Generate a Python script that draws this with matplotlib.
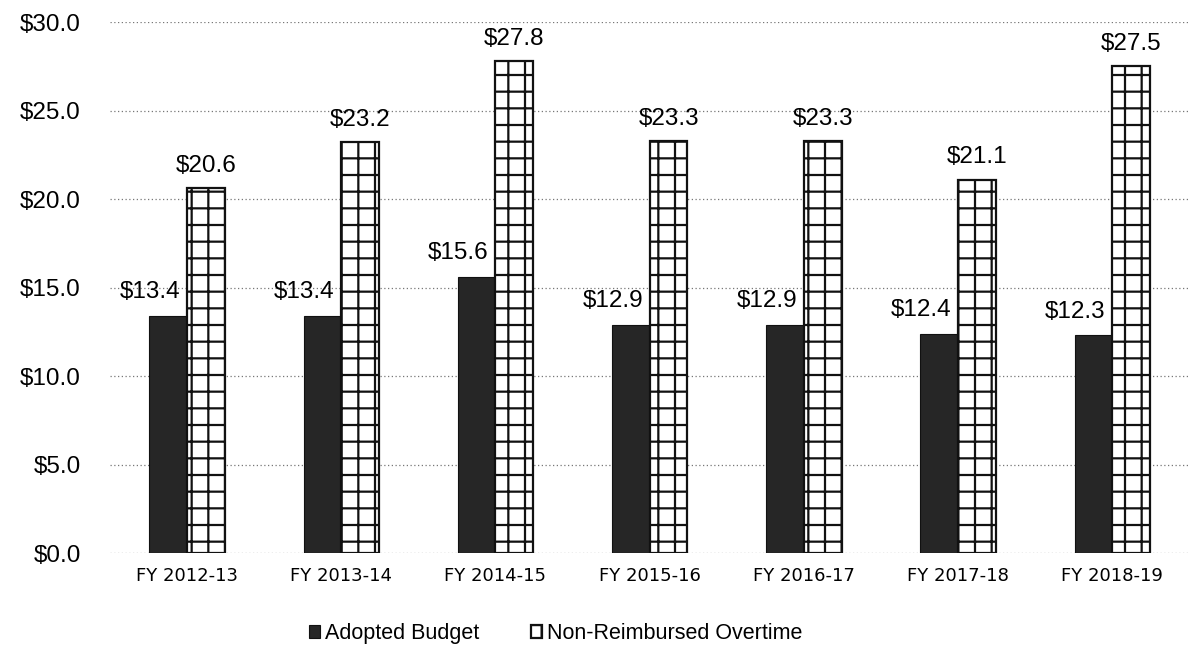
import matplotlib.pyplot as plt
import numpy as np

years = ["FY 2012-13", "FY 2013-14", "FY 2014-15", "FY 2015-16",
         "FY 2016-17", "FY 2017-18", "FY 2018-19"]
adopted = [13.4, 13.4, 15.6, 12.9, 12.9, 12.4, 12.3]
overtime = [20.6, 23.2, 27.8, 23.3, 23.3, 21.1, 27.5]
yticks = [0, 5, 10, 15, 20, 25, 30]

plt.rcParams['font.family'] = ['Liberation Sans', 'DejaVu Sans']
plt.rcParams['hatch.linewidth'] = 1.6
plt.rcParams['hatch.color'] = '#111111'

fig = plt.figure(figsize=(12.02, 6.70), dpi=100)
ax = fig.add_axes([0.0915, 0.1746, 0.898, 0.7925])

x = np.arange(len(years))
w = 0.245
b1 = ax.bar(x - w / 2, adopted, w, color='#262626', edgecolor='#111111',
            linewidth=0.8, label='Adopted Budget', zorder=3)
b2 = ax.bar(x + w / 2, overtime, w, color='white', edgecolor='#111111',
            linewidth=1.6, hatch='+', label='Non-Reimbursed Overtime', zorder=3)

# labels of the dark bars sit a bit to the left, like in the original
for xi, v in zip(x, adopted):
    ax.annotate("$%.1f" % v, (xi - w / 2, v), xytext=(-13, 9),
                textcoords='offset points', ha='center', va='bottom', fontsize=17.5)
for xi, v in zip(x, overtime):
    ax.annotate("$%.1f" % v, (xi + w / 2, v), xytext=(0, 8),
                textcoords='offset points', ha='center', va='bottom', fontsize=17.5)

ax.set_ylim(0, 30)
ax.set_xlim(-0.5, 6.5)
ax.set_yticks(yticks)
ax.set_yticklabels(["$%.1f" % t for t in yticks], fontsize=17.5)
ax.set_xticks(x)
ax.set_xticklabels(years, fontsize=13, family=['DejaVu Sans'])
ax.tick_params(length=0, pad=21, axis='y')
ax.tick_params(length=0, pad=10, axis='x')
ax.yaxis.grid(True, linestyle=(0, (1, 2)), color='#777777', linewidth=0.9, zorder=0)
for s in ax.spines.values():
    s.set_visible(False)

fig.legend(handles=[b1, b2], loc='center', bbox_to_anchor=(0.462, 0.055),
           ncol=2, frameon=False, fontsize=15.5, handlelength=0.55,
           handleheight=0.55, handletextpad=0.2, columnspacing=2.4)

fig.savefig("out.png", dpi=100)
